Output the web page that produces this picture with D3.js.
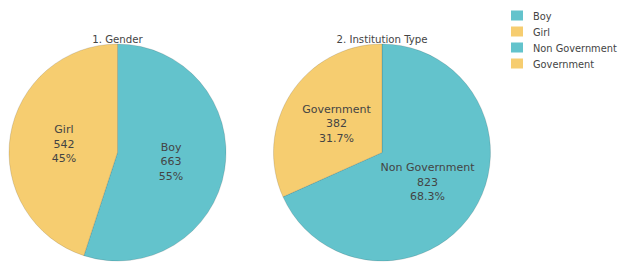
<!DOCTYPE html>
<html>
<head>
<meta charset="utf-8">
<script src="https://cdn.jsdelivr.net/npm/d3@7"></script>
<style>
  body { margin: 0; background: #fff; }
  svg { font-family: "DejaVu Sans", Verdana, sans-serif; }
</style>
</head>
<body>
<div id="chart"></div>
<script>
const genderLabels = ["Boy", "Girl"];
const genderValues = [663, 542];
const genderPct = ["55%", "45%"];

const instLabels = ["Non Government", "Government"];
const instValues = [823, 382];
const instPct = ["68.3%", "31.7%"];

const titles = ["1. Gender", "2. Institution Type"];
const legendLabels = ["Boy", "Girl", "Non Government", "Government"];

const width = 619, height = 262;
const teal = "#63c3cc", yellow = "#f6cd70";

const svg = d3.select("#chart").append("svg")
    .attr("width", width)
    .attr("height", height);

const pies = [
    { cx: 117.5, labels: genderLabels, values: genderValues, pct: genderPct, title: titles[0] },
    { cx: 382, labels: instLabels, values: instValues, pct: instPct, title: titles[1] }
];
const cy = 152.5, R = 108.5;

const pie = d3.pie().sort(null).value(d => d.value);
const arc = d3.arc().innerRadius(0).outerRadius(R);
const color = i => i === 0 ? teal : yellow;

pies.forEach(p => {
    const data = p.values.map((v, i) => ({ value: v, label: p.labels[i], pct: p.pct[i], i }));
    const g = svg.append("g").attr("transform", `translate(${p.cx},${cy})`);

    const arcs = pie(data);
    g.selectAll("path")
        .data(arcs)
        .enter().append("path")
        .attr("d", arc)
        .attr("fill", d => color(d.data.i))
        .attr("stroke", "rgba(0,0,0,0.18)")
        .attr("stroke-width", 0.7);

    const lab = g.selectAll("text.lab")
        .data(arcs)
        .enter().append("text")
        .attr("class", "lab")
        .attr("transform", d => `translate(${arc.centroid(d)})`)
        .attr("text-anchor", "middle")
        .attr("fill", "#444")
        .attr("font-size", 11);
    [d => d.data.label, d => d.data.value, d => d.data.pct].forEach((f, k) => {
        lab.append("tspan")
            .attr("x", 0)
            .attr("y", (k - 1) * 14.5 + 4)
            .text(f);
    });

    svg.append("text")
        .attr("x", p.cx)
        .attr("y", 43)
        .attr("text-anchor", "middle")
        .attr("fill", "#444")
        .attr("font-size", 10.2)
        .text(p.title);
});

const legend = svg.append("g").attr("transform", "translate(511,0)");
const item = legend.selectAll("g")
    .data(legendLabels)
    .enter().append("g")
    .attr("transform", (d, i) => `translate(0,${15.5 + i * 16})`);
item.append("rect")
    .attr("x", 0).attr("y", -5)
    .attr("width", 12).attr("height", 10)
    .attr("fill", (d, i) => i % 2 === 0 ? teal : yellow);
item.append("text")
    .attr("x", 22)
    .attr("y", 4)
    .attr("fill", "#444")
    .attr("font-size", 9.8)
    .text(d => d);
</script>
</body>
</html>
